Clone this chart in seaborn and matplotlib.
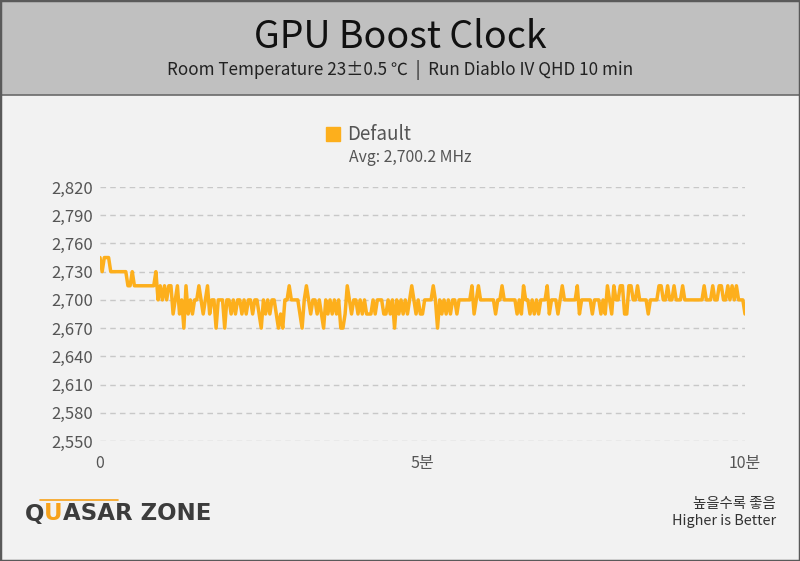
import numpy as np
import pandas as pd
import seaborn as sns
import matplotlib.pyplot as plt
from matplotlib.patches import Rectangle
from matplotlib.lines import Line2D

# --- data (one sample every 2 s, 10 min run) ---
clock_mhz = [
    2745, 2730, 2745, 2745, 2745, 2730, 2730, 2730, 2730, 2730, 2730, 2730, 2730, 2715, 2715, 2730, 2715, 2715, 2715, 2715,
    2715, 2715, 2715, 2715, 2715, 2715, 2730, 2700, 2715, 2700, 2715, 2700, 2715, 2715, 2685, 2700, 2715, 2685, 2700, 2670,
    2715, 2685, 2700, 2685, 2700, 2700, 2715, 2700, 2685, 2700, 2715, 2685, 2700, 2700, 2670, 2700, 2700, 2700, 2670, 2700,
    2700, 2685, 2700, 2685, 2700, 2700, 2685, 2700, 2685, 2700, 2700, 2685, 2700, 2700, 2685, 2670, 2700, 2685, 2700, 2685,
    2700, 2700, 2685, 2670, 2685, 2670, 2700, 2700, 2715, 2700, 2700, 2700, 2700, 2685, 2670, 2700, 2715, 2700, 2685, 2700,
    2700, 2685, 2700, 2685, 2670, 2700, 2685, 2700, 2685, 2700, 2685, 2700, 2670, 2670, 2685, 2715, 2700, 2685, 2700, 2700,
    2685, 2700, 2685, 2700, 2685, 2685, 2685, 2700, 2685, 2700, 2700, 2700, 2685, 2685, 2700, 2685, 2700, 2670, 2700, 2685,
    2700, 2685, 2700, 2685, 2700, 2715, 2700, 2685, 2700, 2685, 2685, 2700, 2700, 2700, 2700, 2715, 2700, 2670, 2700, 2685,
    2700, 2685, 2700, 2685, 2700, 2700, 2685, 2700, 2700, 2700, 2700, 2700, 2700, 2715, 2685, 2700, 2715, 2700, 2700, 2700,
    2700, 2700, 2700, 2700, 2685, 2700, 2700, 2715, 2700, 2700, 2700, 2700, 2700, 2700, 2685, 2700, 2685, 2715, 2700, 2700,
    2685, 2700, 2685, 2700, 2685, 2700, 2700, 2700, 2715, 2685, 2700, 2700, 2700, 2685, 2700, 2715, 2700, 2700, 2700, 2700,
    2700, 2700, 2715, 2685, 2700, 2700, 2700, 2700, 2700, 2685, 2700, 2700, 2700, 2685, 2700, 2685, 2715, 2700, 2685, 2715,
    2700, 2700, 2715, 2715, 2685, 2685, 2715, 2715, 2700, 2700, 2715, 2700, 2700, 2700, 2700, 2685, 2700, 2700, 2700, 2700,
    2715, 2715, 2700, 2700, 2715, 2700, 2700, 2715, 2700, 2700, 2700, 2715, 2700, 2700, 2700, 2700, 2700, 2700, 2700, 2700,
    2700, 2715, 2700, 2700, 2700, 2715, 2700, 2700, 2715, 2715, 2700, 2700, 2715, 2700, 2715, 2700, 2715, 2700, 2700, 2700,
    2685,
]
sample_step_s = 2
series_name = "Default"
avg_label = "Avg: 2,700.2 MHz"
y_ticks = [2550, 2580, 2610, 2640, 2670, 2700, 2730, 2760, 2790, 2820]
x_ticks = [0, 300, 600]
x_tick_labels = ["0", "5분", "10분"]

df = pd.DataFrame({"clock": clock_mhz})
df["sec"] = np.arange(len(df)) * sample_step_s

# --- style ---
sns.set_style("white")
plt.rcParams["font.family"] = ["Noto Sans CJK KR", "DejaVu Sans"]

line_color = "#FDAF1C"
text_grey = "#555555"

fig = plt.figure(figsize=(8, 5.61), dpi=100, facecolor="#F2F2F2")

# header band + frame
fig.patches.append(Rectangle((0, 1 - 95 / 561), 1, 95 / 561, transform=fig.transFigure,
                             facecolor="#C0C0C0", edgecolor="none", zorder=0))
fig.lines.append(Line2D([0, 1], [1 - 95 / 561] * 2, transform=fig.transFigure, color="#6A6A6A", lw=1.2))
fig.patches.append(Rectangle((0, 0), 1, 1, transform=fig.transFigure, fill=False,
                             edgecolor="#5A5A5A", lw=2.5, zorder=10))

fig.text(0.5, 1 - 37 / 561, "GPU Boost Clock", ha="center", va="center", fontsize=27, color="#111111")
fig.text(0.5, 1 - 70 / 561, "Room Temperature 23±0.5 ℃  |  Run Diablo IV QHD 10 min",
         ha="center", va="center", fontsize=12.3, color="#222222")

ax = fig.add_axes([100 / 800, 1 - 441 / 561, 645 / 800, (441 - 187) / 561])
ax.set_facecolor("#F2F2F2")
sns.lineplot(data=df, x="sec", y="clock", ax=ax, color=line_color, lw=2.5, legend=False)

ax.set_xlim(0, 600)
ax.set_ylim(2550, 2820)
ax.set_yticks(y_ticks)
ax.set_yticklabels([f"{v:,}" for v in y_ticks])
ax.set_xticks(x_ticks)
ax.set_xticklabels(x_tick_labels)
ax.tick_params(length=0, labelsize=11.5, labelcolor=text_grey, pad=10)
ax.tick_params(axis="y", pad=5, labelsize=12)
ax.grid(axis="y", color="#C8C8C8", ls=(0, (4, 3)), lw=1)
ax.set_xlabel("")
ax.set_ylabel("")
sns.despine(ax=ax, left=True, bottom=True)

# legend
handle = Line2D([], [], marker="s", ls="", color=line_color, markersize=10)
fig.legend([handle], [series_name], loc="center left", bbox_to_anchor=(302 / 800, 1 - 135 / 561),
           frameon=False, fontsize=13.5, handletextpad=0.0, handlelength=1.5, labelcolor=text_grey)
fig.text(349 / 800, 1 - 158 / 561, avg_label, ha="left", va="center", fontsize=11.4, color=text_grey)

# footer
fig.text(776 / 800, 1 - 504 / 561, "높을수록 좋음", ha="right", va="center", fontsize=10.4, color="#333333")
fig.text(776 / 800, 1 - 521 / 561, "Higher is Better", ha="right", va="center", fontsize=10.4, color="#333333")

# logo: pieces placed one after another
renderer = fig.canvas.get_renderer()
logo_y = 1 - 514 / 561
x_px = 25
for piece, col in [("Q", "#3C3C3C"), ("U", "#F7A21B"), ("ASAR ZONE", "#3C3C3C")]:
    t = fig.text(x_px / 800, logo_y, piece, ha="left", va="center", fontsize=16.5,
                 fontweight="bold", family="DejaVu Sans", color=col)
    x_px = t.get_window_extent(renderer).x1
fig.lines.append(Line2D([40 / 800, 118 / 800], [1 - 500 / 561] * 2, transform=fig.transFigure,
                        color="#F7A21B", lw=1.2))

fig.savefig("out.png", dpi=100, facecolor=fig.get_facecolor())
